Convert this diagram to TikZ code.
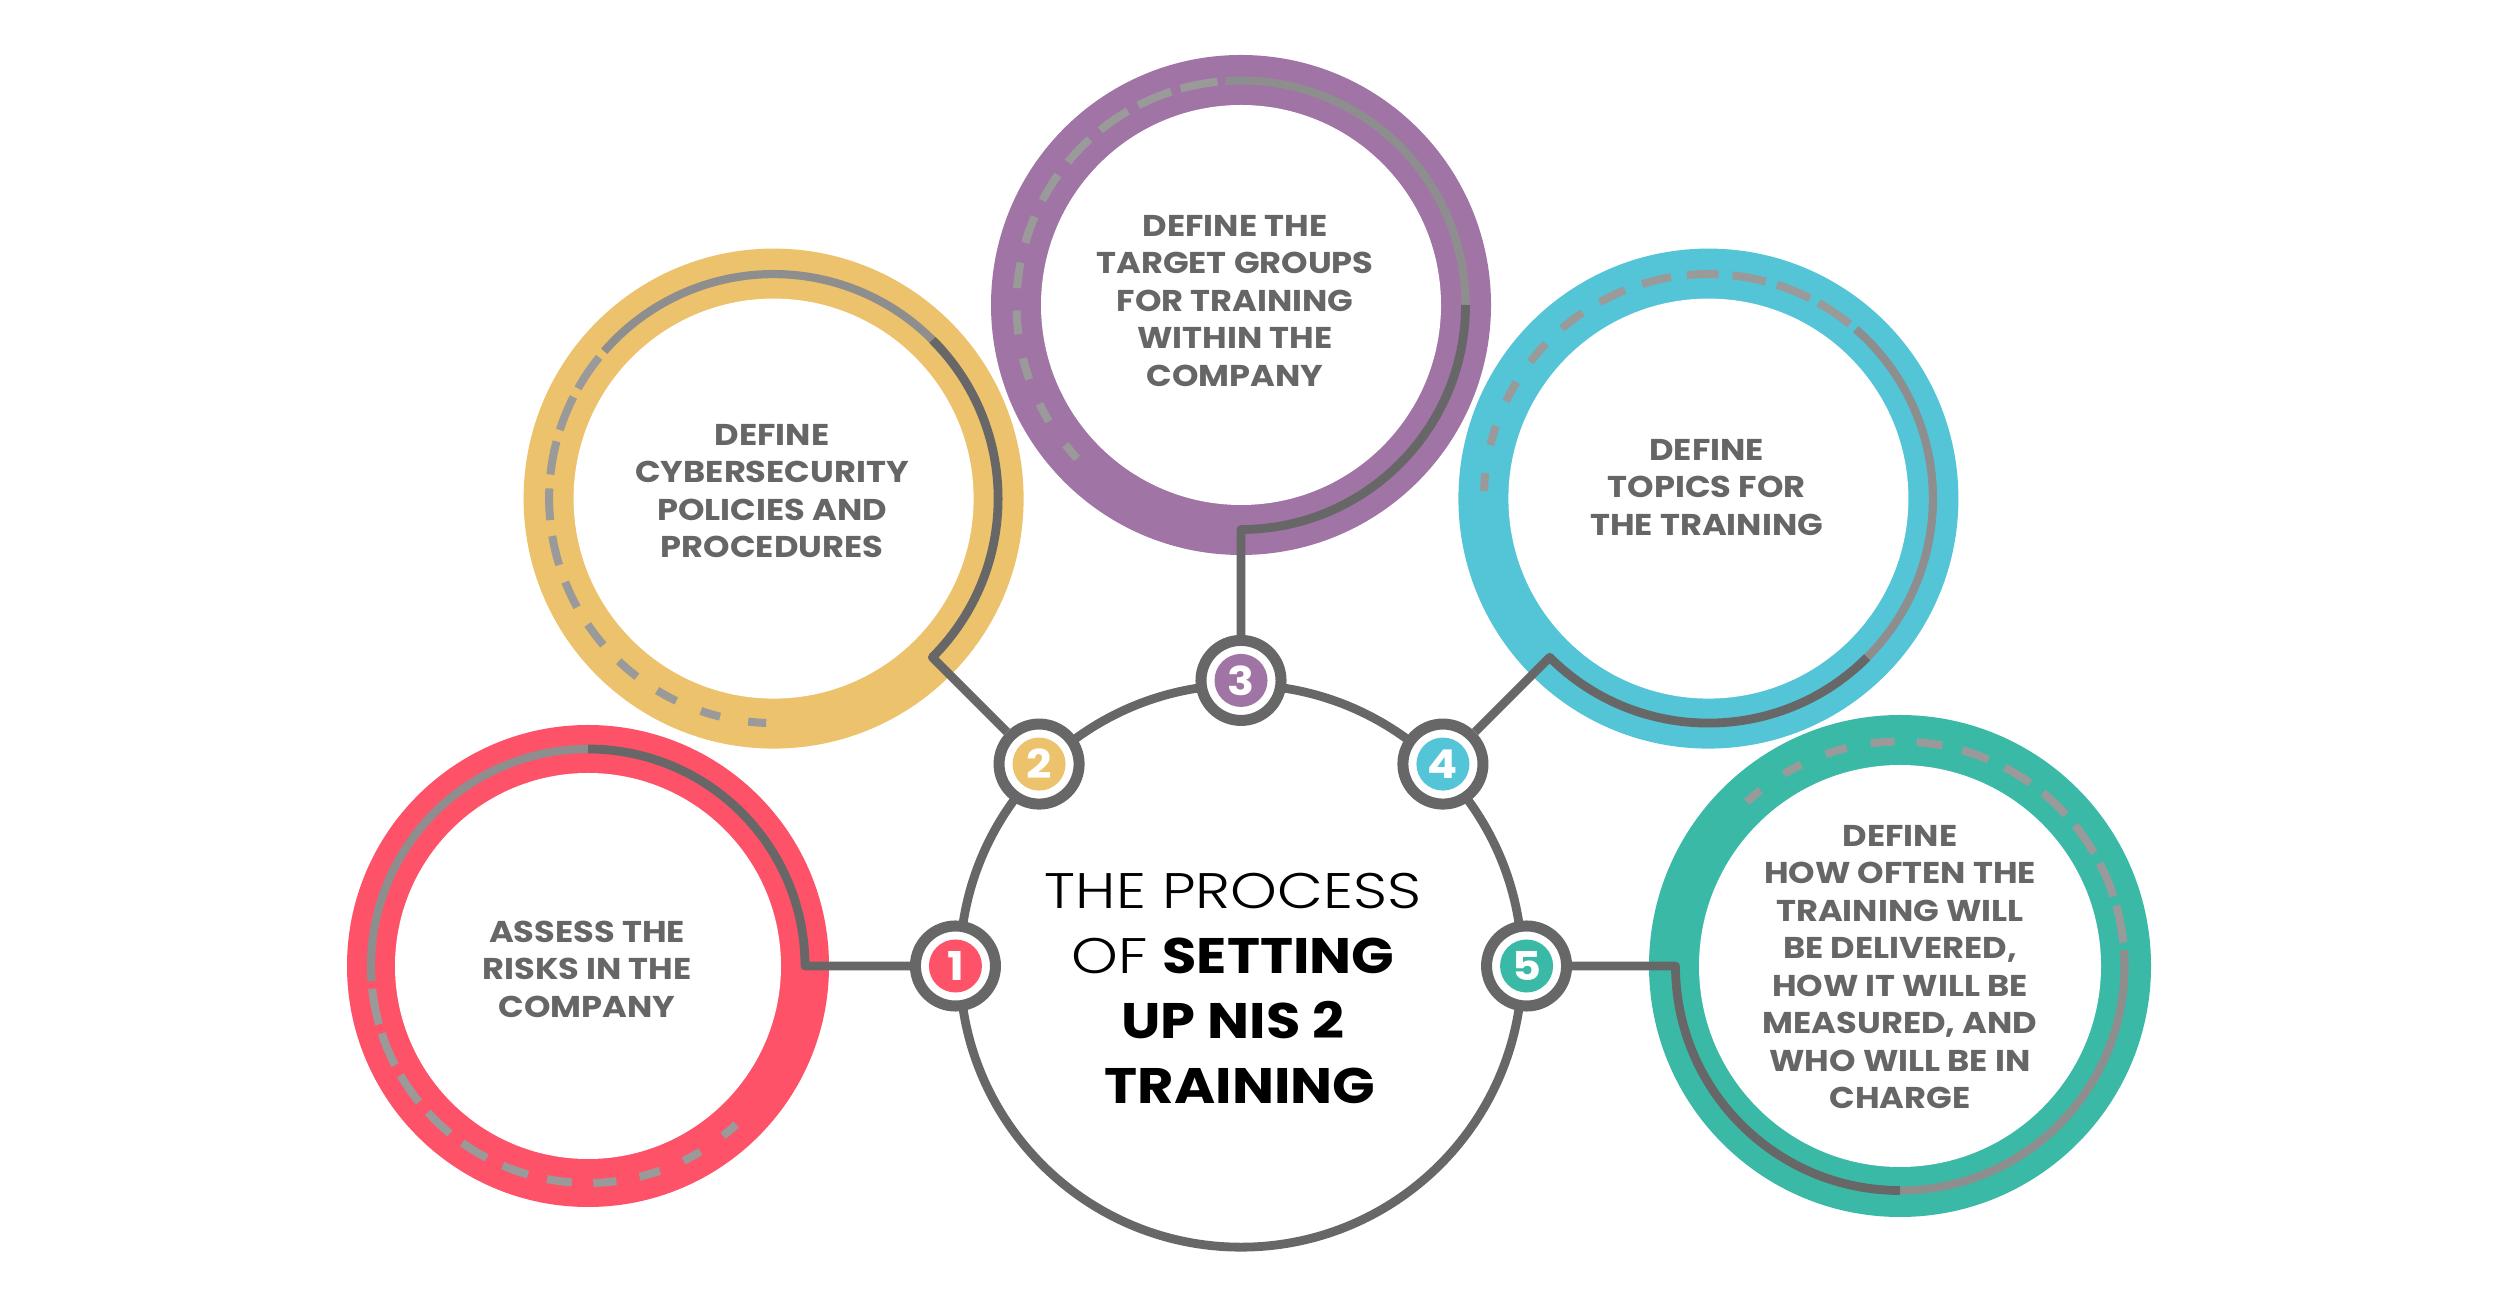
\documentclass[tikz,border=0pt]{standalone}
\usepackage{fontspec}
\setmainfont{Poppins}[FakeStretch=1.12]
\newfontfamily\lightfont{Poppins Light}[FakeStretch=1.19]
\definecolor{cred}{HTML}{FE5268}
\definecolor{cyel}{HTML}{ECC26C}
\definecolor{cpur}{HTML}{A074A5}
\definecolor{cblu}{HTML}{54C4D7}
\definecolor{ctea}{HTML}{3BB9A7}
\definecolor{dgray}{HTML}{676767}
\definecolor{lgray}{HTML}{8E8E8E}
\definecolor{dashgray}{HTML}{9A9A9A}
\definecolor{tgray}{HTML}{666666}
\newcommand\ringdeco[4]{%
  \pgfmathsetmacro\rdA{#4+90}\pgfmathsetmacro\rdB{#4+184}%
  \draw[lline] ([shift={(\rdA:#3)}]#1,#2) arc[start angle=\rdA, end angle=\rdB, radius=#3];
  \foreach \i in {0,...,10}{%
    \pgfmathsetmacro\rdS{#4+186+12.1*\i+0.01667*\i*(\i-1)}%
    \pgfmathsetmacro\rdE{\rdS+9.6-0.5*\i}%
    \draw[dashline] ([shift={(\rdS:#3)}]#1,#2) arc[start angle=\rdS, end angle=\rdE, radius=#3];
  }}
\begin{document}
\begin{tikzpicture}[x=0.01cm,y=0.01cm,
  dline/.style={draw=dgray, line width=0.088cm, line join=round},
  lline/.style={draw=lgray, line width=0.082cm},
  dashline/.style={draw=dashgray, line width=0.08cm},
  badge/.style={circle, draw=dgray, line width=0.11cm, fill=white, minimum size=0.80cm, inner sep=0pt, text=white,
    font=\fontsize{11.3}{12}\selectfont\bfseries,
    path picture={\fill[#1] (path picture bounding box.center) circle (0.265cm);}},
  boxtext/.style={align=center, text=tgray, font=\fontsize{8.55}{10.67}\selectfont\bfseries},
]
\useasboundingbox (0,0) rectangle (2500,1309);
\fill[white] (0,0) rectangle (2500,1309);

% outer rings
\fill[cred] (588,343) circle (241);   \fill[white] (588,343) circle (193);
\fill[cyel] (773.6,810.4) circle (250); \fill[white] (773.6,810.4) circle (200);
\fill[cpur] (1241,1004) circle (250);  \fill[white] (1241,1004) circle (200);
\fill[cblu] (1708.4,810.4) circle (250); \fill[white] (1708.4,810.4) circle (200);
\fill[ctea] (1900,343) circle (251);   \fill[white] (1900,343) circle (201);

\ringdeco{588}{343}{217}{0}
\ringdeco{773.6}{810.4}{224.5}{-45}
\ringdeco{1241}{1004}{224.5}{270}
\ringdeco{1708.4}{810.4}{224.5}{225}
\ringdeco{1900}{343}{224.5}{180}

% hub
\node[circle, draw=dgray, line width=0.088cm, minimum size=5.62cm, inner sep=0pt] (hub) at (1241,343) {};

% badges
\node[badge=cred] (b1) at (hub.180) {1};
\node[badge=cyel] (b2) at (hub.135) {2};
\node[badge=cpur] (b3) at (hub.90)  {3};
\node[badge=cblu] (b4) at (hub.45)  {4};
\node[badge=ctea] (b5) at (hub.0)   {5};

% connector end points on the rings
\coordinate (k1) at ([shift={(0:217)}]588,343);
\coordinate (k2) at ([shift={(-45:224.5)}]773.6,810.4);
\coordinate (k3) at ([shift={(270:224.5)}]1241,1004);
\coordinate (k4) at ([shift={(225:224.5)}]1708.4,810.4);
\coordinate (k5) at ([shift={(180:224.5)}]1900,343);

\draw[dline] (b1) -- (k1) arc[start angle=0, end angle=90, radius=217];
\draw[dline] (b2) -- (k2) arc[start angle=-45, end angle=45, radius=224.5];
\draw[dline] (b3) -- (k3) arc[start angle=270, end angle=360, radius=224.5];
\draw[dline] (b4) -- (k4) arc[start angle=225, end angle=315, radius=224.5];
\draw[dline] (b5) -- (k5) arc[start angle=180, end angle=270, radius=224.5];

% texts
\node[boxtext] (t1) at (587,340) {ASSESS THE\\RISKS IN THE\\COMPANY};
\node[boxtext] (t2) at (772,818) {DEFINE\\CYBERSECURITY\\POLICIES AND\\PROCEDURES};
\node[boxtext] (t3) at (1235,1008) {DEFINE THE\\TARGET GROUPS\\FOR TRAINING\\WITHIN THE\\COMPANY};
\node[boxtext] (t4) at (1706.7,821.5) {DEFINE\\TOPICS FOR\\THE TRAINING};
\node[boxtext] (t5) at (1900,342) {DEFINE\\HOW OFTEN THE\\TRAINING WILL\\BE DELIVERED,\\HOW IT WILL BE\\MEASURED, AND\\WHO WILL BE IN\\CHARGE};

\node[align=center, text=black, font=\fontsize{14.2}{18.4}\selectfont] (title) at (1233,320.5)
  {{\lightfont THE PROCESS}\\{\lightfont OF} \textbf{SETTING}\\\textbf{UP NIS 2}\\\hspace*{0.14cm}\textbf{TRAINING}};
\end{tikzpicture}
\end{document}
